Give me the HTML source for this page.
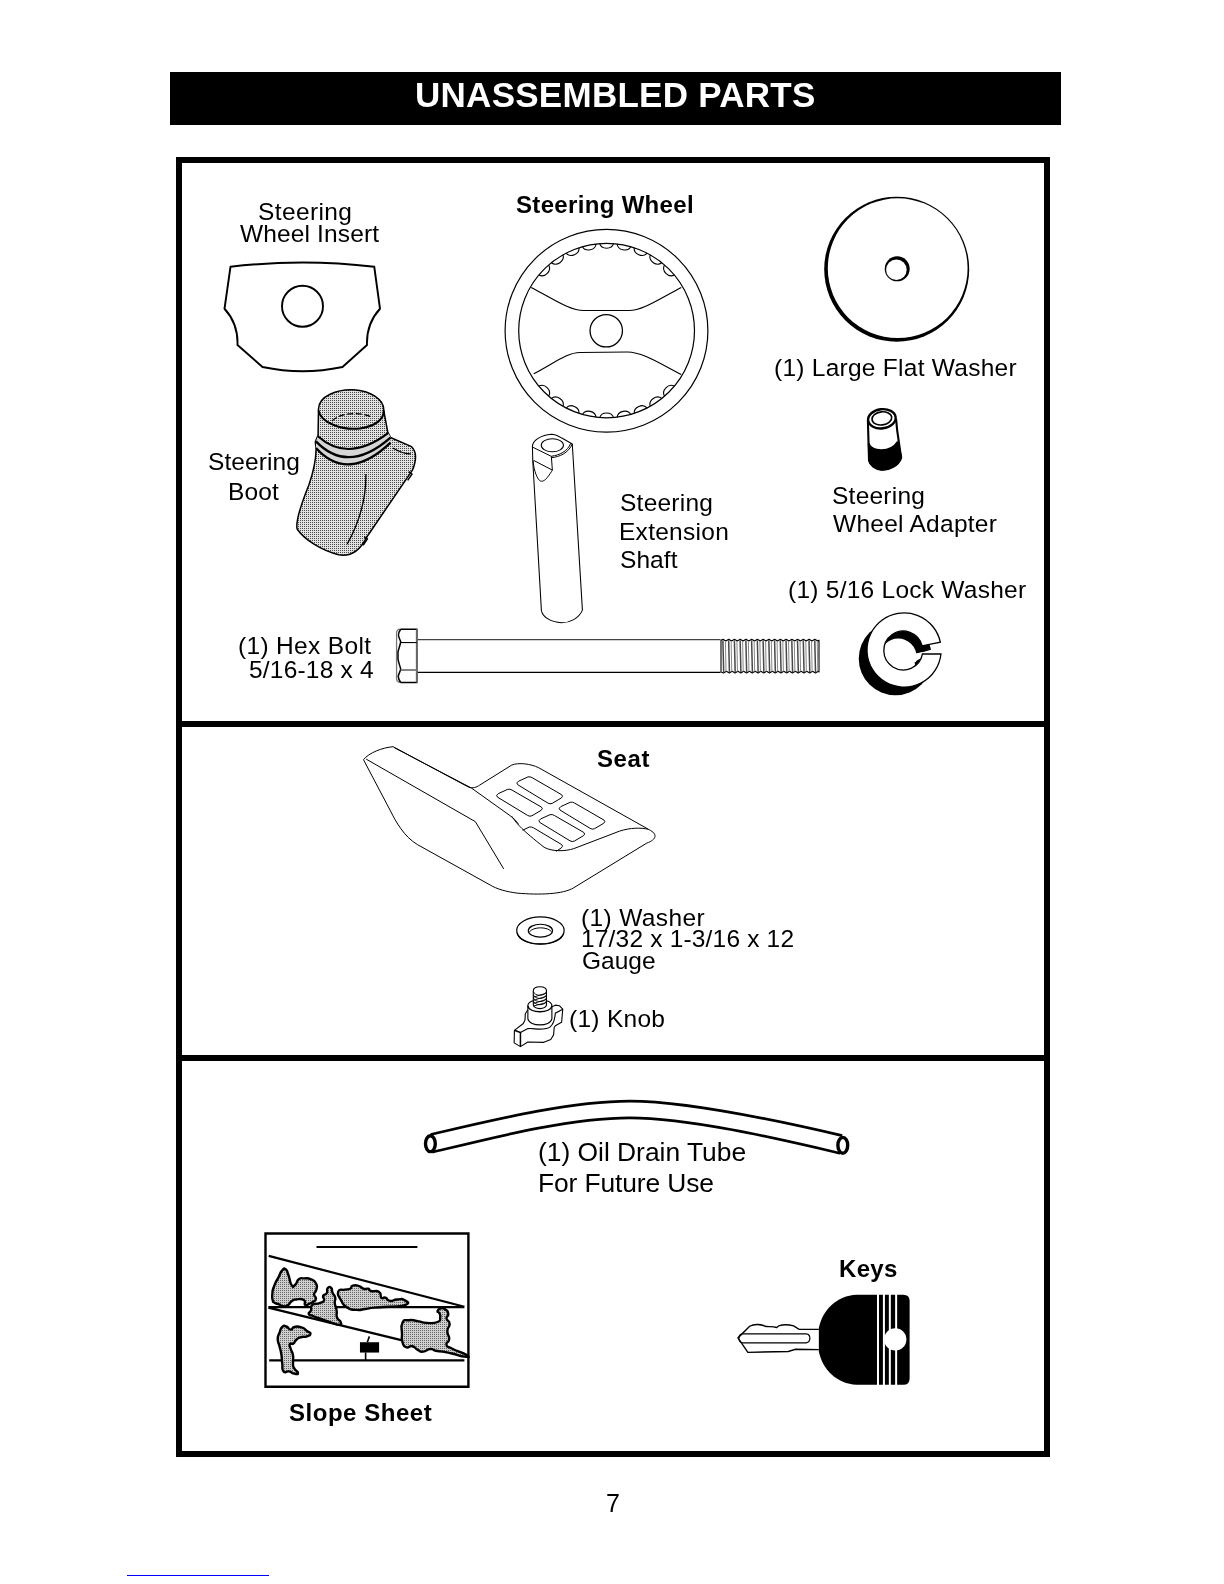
<!DOCTYPE html>
<html><head><meta charset="utf-8">
<style>
html,body{margin:0;padding:0;background:#fff;}
body{width:1224px;height:1584px;position:relative;overflow:hidden;font-family:"Liberation Sans",sans-serif;color:#000;}
.hdr{position:absolute;left:170px;top:72px;width:891px;height:53px;background:#000;}
.box{position:absolute;left:176px;top:157px;width:862px;height:1288px;border:6px solid #000;}
.sep{position:absolute;left:176px;width:874px;height:6px;background:#000;}
.t{position:absolute;white-space:nowrap;line-height:1;will-change:transform;}
.b{font-weight:bold;}
svg{position:absolute;left:0;top:0;}
svg *{vector-effect:non-scaling-stroke;}
</style></head><body>
<div class="hdr"></div>
<div class="box"></div>
<div class="sep" style="top:721px"></div>
<div class="sep" style="top:1055px"></div>
<div class="t b" style="left:414.5px;top:77.4px;font-size:35px;letter-spacing:0.27px;color:#fff;">UNASSEMBLED PARTS</div>
<svg width="1224" height="1584" viewBox="0 0 1224 1584" fill="none" stroke="#000" stroke-width="1.5">
<defs>
<pattern id="dA" width="2" height="2" patternUnits="userSpaceOnUse" patternTransform="scale(4.708)"><rect width="2" height="2" fill="#e2e2e2" stroke="none"/><rect width="1" height="1" fill="#484848" stroke="none"/></pattern>
<pattern id="dB" width="2" height="2" patternUnits="userSpaceOnUse" patternTransform="scale(11.127)"><rect width="2" height="2" fill="#cfcfcf" stroke="none"/><rect width="1" height="1" fill="#666" stroke="none"/></pattern>
</defs>
<g transform="translate(200,180) scale(0.25000)" >
<path d="M122,347 Q410,313 697,347 L720,515 Q665,575 668,660 L570,748 Q410,782 250,748 L150,660 Q153,575 98,515 Z" stroke-width="1.9" stroke-linejoin="round"/>
<circle cx="410" cy="505" r="82" stroke-width="1.9"/>
</g>
<circle cx="606.5" cy="330.75" r="101.4" stroke-width="1.2"/>
<ellipse cx="606.6" cy="330.6" rx="87.9" ry="87.2" stroke-width="1.2"/>
<path d="M539.0,275.1 C544.9,278.1 552.0,270.8 548.7,265.0" stroke-width="1.1"/>
<path d="M551.4,262.7 C556.6,266.9 565.0,261.1 563.0,254.7" stroke-width="1.1"/>
<path d="M566.1,253.1 C570.3,258.2 579.7,254.2 579.0,247.6" stroke-width="1.1"/>
<path d="M582.3,246.5 C585.5,252.4 595.5,250.4 596.1,243.7" stroke-width="1.1"/>
<path d="M599.6,243.4 C601.5,249.8 611.7,249.8 613.6,243.4" stroke-width="1.1"/>
<path d="M617.1,243.7 C617.7,250.4 627.7,252.4 630.9,246.5" stroke-width="1.1"/>
<path d="M634.2,247.6 C633.5,254.2 642.9,258.2 647.1,253.1" stroke-width="1.1"/>
<path d="M650.2,254.7 C648.2,261.1 656.6,266.9 661.8,262.7" stroke-width="1.1"/>
<path d="M664.5,265.0 C661.2,270.8 668.3,278.1 674.2,275.1" stroke-width="1.1"/>
<path d="M674.2,386.1 C668.3,383.1 661.2,390.4 664.5,396.2" stroke-width="1.1"/>
<path d="M661.8,398.5 C656.6,394.3 648.2,400.1 650.2,406.5" stroke-width="1.1"/>
<path d="M647.1,408.1 C642.9,403.0 633.5,407.0 634.2,413.6" stroke-width="1.1"/>
<path d="M630.9,414.7 C627.7,408.8 617.7,410.8 617.1,417.5" stroke-width="1.1"/>
<path d="M613.6,417.8 C611.7,411.4 601.5,411.4 599.6,417.8" stroke-width="1.1"/>
<path d="M596.1,417.5 C595.5,410.8 585.5,408.8 582.3,414.7" stroke-width="1.1"/>
<path d="M579.0,413.6 C579.7,407.0 570.3,403.0 566.1,408.1" stroke-width="1.1"/>
<path d="M563.0,406.5 C565.0,400.1 556.6,394.3 551.4,398.5" stroke-width="1.1"/>
<path d="M548.7,396.2 C552.0,390.4 544.9,383.1 539.0,386.1" stroke-width="1.1"/>
<circle cx="606.25" cy="330.75" r="16.2" stroke-width="1.3"/>
<g transform="translate(480,180) scale(0.25000)" >
<path d="M205,430 C300,480 360,522 415,522 L595,522 C650,522 710,480 805,430" stroke-width="1.2"/>
<path d="M215,775 C300,730 350,690 400,690 L590,688 C650,688 720,735 805,778" stroke-width="1.2"/>
</g>

<circle cx="896.7" cy="269.2" r="72.5" fill="#000" stroke="none"/>
<circle cx="897.7" cy="268.2" r="69.9" fill="#fff" stroke="none"/>
<circle cx="897.2" cy="268.8" r="12.5" fill="#000" stroke="none"/>
<circle cx="896.4" cy="269.7" r="10.3" fill="#fff" stroke="none"/>
<g transform="translate(190,370) scale(0.21240)" >
<path d="M605,190 C600,120 700,90 770,93 C850,97 915,140 912,190 L931,292 L944,318 L1043,361 C1068,385 1068,420 1048,470 L830,790 C800,850 760,880 700,870 C620,850 540,800 505,750 C495,720 520,640 560,540 C585,470 592,430 594,372 L590,338 L603,308 Z" fill="url(#dA)" stroke-width="1.5" stroke-linejoin="round"/>
<path d="M602,312 Q744,439 934,296 L944,318 L944,342 Q744,533 593,367 L593,336 Z" fill="#d6d6d6" stroke="none"/>
<path d="M605,190 C615,250 720,285 800,275 C880,265 915,225 912,190" stroke-width="2"/>
<path d="M668,240 C710,200 800,195 855,222" stroke-width="1.3" stroke-dasharray="6 2.5"/>
<path d="M602,312 Q744,439 934,296" stroke-width="2.1"/>
<path d="M593,336 Q744,493 944,318" stroke-width="2.3"/>
<path d="M593,367 Q744,533 944,342" stroke-width="2.3"/>
<path d="M828,490 C830,620 790,730 740,820" stroke-width="1.3"/>
<path d="M955,367 C985,385 1010,395 1040,395" stroke-width="1.3"/>
<path d="M1030,478 L1045,490 L1025,520" stroke-width="1.5"/>
<path d="M820,785 L835,795 L815,825" stroke-width="1.5"/>
</g>
<g transform="translate(520,425) scale(0.06536)" >
<path d="M190,320 C200,230 330,150 480,140 C540,140 580,160 640,200 L800,290 L955,2832 C900,2960 760,3027 636,3027 C480,3010 360,2950 328,2848 L195,540 Z" fill="#fff" stroke-width="1.05" stroke-linejoin="round"/>
<path d="M195,340 L480,480 M480,500 C600,490 740,430 800,290 M480,478 C600,465 730,400 775,282" stroke-width="1"/>
<ellipse cx="495" cy="310" rx="170" ry="100" stroke-width="1.05"/>
<path d="M480,480 L495,690 M215,545 L495,690 M200,540 C205,640 240,790 300,850 C340,880 390,840 420,800 C450,760 480,720 495,690" stroke-width="1"/>
</g>
<g transform="translate(855,400) scale(0.05051)" >
<path d="M255,400 L278,1200 C300,1290 400,1370 520,1380 C680,1390 860,1300 915,1140 L895,1020 L835,600 L815,390 Z" fill="#fff" stroke-width="2.1" stroke-linejoin="round"/>
<path d="M268,850 C300,930 400,985 520,988 C640,988 770,940 838,830 L895,1020 L915,1140 C860,1300 680,1390 520,1380 C400,1370 300,1290 278,1200 Z" fill="#000" stroke-width="1.5" stroke-linejoin="round"/>
<ellipse cx="532" cy="372" rx="274" ry="190" fill="#fff" stroke-width="2.4" transform="rotate(-7 532 372)"/>
<ellipse cx="532" cy="364" rx="196" ry="130" stroke-width="1.6" transform="rotate(-7 532 364)"/>
</g>

<path d="M417.4,639.7 L720.5,639.7" stroke="#444" stroke-width="1.2"/><path d="M417.4,672.4 L720.5,672.4" stroke-width="1.4"/>
<path d="M721.00,640.2 L723.00,639.2 L725.80,641.0 L728.74,639.2 L731.54,641.0 L734.48,639.2 L737.28,641.0 L740.22,639.2 L743.02,641.0 L745.96,639.2 L748.76,641.0 L751.70,639.2 L754.50,641.0 L757.44,639.2 L760.24,641.0 L763.18,639.2 L765.98,641.0 L768.92,639.2 L771.72,641.0 L774.66,639.2 L777.46,641.0 L780.40,639.2 L783.20,641.0 L786.14,639.2 L788.94,641.0 L791.88,639.2 L794.68,641.0 L797.62,639.2 L800.42,641.0 L803.36,639.2 L806.16,641.0 L809.10,639.2 L811.90,641.0 L814.84,639.2 L817.64,641.0 L819.00,640.2 L819.00,672.0 L818.24,671.2 L815.44,673.0 L812.50,671.2 L809.70,673.0 L806.76,671.2 L803.96,673.0 L801.02,671.2 L798.22,673.0 L795.28,671.2 L792.48,673.0 L789.54,671.2 L786.74,673.0 L783.80,671.2 L781.00,673.0 L778.06,671.2 L775.26,673.0 L772.32,671.2 L769.52,673.0 L766.58,671.2 L763.78,673.0 L760.84,671.2 L758.04,673.0 L755.10,671.2 L752.30,673.0 L749.36,671.2 L746.56,673.0 L743.62,671.2 L740.82,673.0 L737.88,671.2 L735.08,673.0 L732.14,671.2 L729.34,673.0 L726.40,671.2 L723.60,673.0 L721.00,672.0 Z" fill="#fff" stroke-width="1.1" stroke-linejoin="round"/>
<path d="M722.90,640.3 L723.70,672.2" stroke="#484848" stroke-width="1.5"/>
<path d="M725.40,641.2 L726.00,671.4" stroke="#8a8a8a" stroke-width="1.0"/>
<path d="M728.64,640.3 L729.44,672.2" stroke="#484848" stroke-width="1.5"/>
<path d="M731.14,641.2 L731.74,671.4" stroke="#8a8a8a" stroke-width="1.0"/>
<path d="M734.38,640.3 L735.18,672.2" stroke="#484848" stroke-width="1.5"/>
<path d="M736.88,641.2 L737.48,671.4" stroke="#8a8a8a" stroke-width="1.0"/>
<path d="M740.12,640.3 L740.92,672.2" stroke="#484848" stroke-width="1.5"/>
<path d="M742.62,641.2 L743.22,671.4" stroke="#8a8a8a" stroke-width="1.0"/>
<path d="M745.86,640.3 L746.66,672.2" stroke="#484848" stroke-width="1.5"/>
<path d="M748.36,641.2 L748.96,671.4" stroke="#8a8a8a" stroke-width="1.0"/>
<path d="M751.60,640.3 L752.40,672.2" stroke="#484848" stroke-width="1.5"/>
<path d="M754.10,641.2 L754.70,671.4" stroke="#8a8a8a" stroke-width="1.0"/>
<path d="M757.34,640.3 L758.14,672.2" stroke="#484848" stroke-width="1.5"/>
<path d="M759.84,641.2 L760.44,671.4" stroke="#8a8a8a" stroke-width="1.0"/>
<path d="M763.08,640.3 L763.88,672.2" stroke="#484848" stroke-width="1.5"/>
<path d="M765.58,641.2 L766.18,671.4" stroke="#8a8a8a" stroke-width="1.0"/>
<path d="M768.82,640.3 L769.62,672.2" stroke="#484848" stroke-width="1.5"/>
<path d="M771.32,641.2 L771.92,671.4" stroke="#8a8a8a" stroke-width="1.0"/>
<path d="M774.56,640.3 L775.36,672.2" stroke="#484848" stroke-width="1.5"/>
<path d="M777.06,641.2 L777.66,671.4" stroke="#8a8a8a" stroke-width="1.0"/>
<path d="M780.30,640.3 L781.10,672.2" stroke="#484848" stroke-width="1.5"/>
<path d="M782.80,641.2 L783.40,671.4" stroke="#8a8a8a" stroke-width="1.0"/>
<path d="M786.04,640.3 L786.84,672.2" stroke="#484848" stroke-width="1.5"/>
<path d="M788.54,641.2 L789.14,671.4" stroke="#8a8a8a" stroke-width="1.0"/>
<path d="M791.78,640.3 L792.58,672.2" stroke="#484848" stroke-width="1.5"/>
<path d="M794.28,641.2 L794.88,671.4" stroke="#8a8a8a" stroke-width="1.0"/>
<path d="M797.52,640.3 L798.32,672.2" stroke="#484848" stroke-width="1.5"/>
<path d="M800.02,641.2 L800.62,671.4" stroke="#8a8a8a" stroke-width="1.0"/>
<path d="M803.26,640.3 L804.06,672.2" stroke="#484848" stroke-width="1.5"/>
<path d="M805.76,641.2 L806.36,671.4" stroke="#8a8a8a" stroke-width="1.0"/>
<path d="M809.00,640.3 L809.80,672.2" stroke="#484848" stroke-width="1.5"/>
<path d="M811.50,641.2 L812.10,671.4" stroke="#8a8a8a" stroke-width="1.0"/>
<path d="M814.74,640.3 L815.54,672.2" stroke="#484848" stroke-width="1.5"/>
<path d="M817.24,641.2 L817.84,671.4" stroke="#8a8a8a" stroke-width="1.0"/>
<g transform="translate(385,620) scale(0.04902)" >
<path d="M320,187 L648,187 L648,1275 L320,1275" stroke-width="1.5"/>
<path d="M648,187 L648,1275" stroke="#666" stroke-width="1.8"/>
<path d="M320,187 C270,190 236,220 236,260 L236,1200 C236,1240 270,1272 320,1275" stroke="#777" stroke-width="1.3"/>
<path d="M320,190 C290,230 270,270 275,320 C290,380 310,410 320,440 C310,520 275,600 265,650 L265,800 C280,880 310,950 320,1000 C310,1060 275,1100 270,1150 C275,1210 300,1250 320,1275" stroke-width="1.5"/>
<path d="M320,460 L648,460" stroke-width="1.1"/>
<path d="M320,1020 L648,1020" stroke="#777" stroke-width="1.8"/>
</g>
<clipPath id="lwh"><circle cx="652" cy="557" r="238"/></clipPath>
<g transform="translate(850,605) scale(0.08170)" >
<circle cx="557" cy="656" r="450" fill="#000" stroke="none"/>
<path d="M800,602 L1003,546 L1020,602 Z" fill="#fff" stroke="none"/>
<g clip-path="url(#lwh)"><circle cx="590" cy="637" r="226" fill="#fff" stroke="none"/><path d="M780,600 L890,575 L890,640 L780,700 Z" fill="#fff" stroke="none"/></g>
<path d="M1105.7,455 A454,454 0 1,0 1113.3,600 L886,600 A238,238 0 1,1 883,500 Z" fill="#fff" stroke-width="1.3" stroke-linejoin="miter"/>
<path d="M790,702 L850,690 L800,740 Z" fill="#000" stroke="none"/>
</g>
<g transform="translate(350,730) scale(0.26961)" >
<path d="M50,110 C70,85 120,65 160,62 L440,212 C455,218 470,212 480,205 L600,130 C625,120 670,125 700,140 L1110,370 C1140,385 1140,405 1100,420 L830,585 C790,610 700,612 620,605 C580,600 545,590 520,575 L250,425 C200,395 170,340 150,300 Z" stroke-width="1"/>
<path d="M60,108 L465,340 L570,515" stroke-width="1"/>
<path d="M165,66 L450,215 L590,315 C610,330 620,340 625,350" stroke-width="1"/>
<path d="M600,320 C620,350 640,372 720,435 C750,452 800,450 830,440 L1000,375 C1040,362 1080,362 1105,368" stroke-width="1"/>
<path d="M625,190 L660,174 Q668,172 676,177 L785,240 Q792,246 784,252 L750,272 Q742,276 734,271 L622,203 Q614,196 625,190 Z" stroke-width="1"/>
<path d="M550,236 L585,220 Q593,218 601,223 L710,286 Q717,292 709,298 L675,318 Q667,322 659,317 L547,249 Q539,242 550,236 Z" stroke-width="1"/>
<path d="M782,284 L817,268 Q825,266 833,271 L942,334 Q949,340 941,346 L907,366 Q899,370 891,365 L779,297 Q771,290 782,284 Z" stroke-width="1"/>
<path d="M707,330 L742,314 Q750,312 758,317 L867,380 Q874,386 866,392 L832,412 Q824,416 816,411 L704,343 Q696,336 707,330 Z" stroke-width="1"/>
<path d="M640,372 L665,360 Q673,358 681,363 L785,425 Q792,431 784,437 L765,450" stroke-width="1"/>
</g>
<g transform="translate(490,890) scale(0.26961)" >
<ellipse cx="187" cy="150" rx="88" ry="50" stroke-width="1.2"/>
<path d="M100,158 C110,215 265,215 274,158" stroke-width="1.1"/>
<ellipse cx="187" cy="151" rx="45" ry="24" stroke-width="1.2"/>
<path d="M146,156 C160,135 215,135 229,156" stroke-width="1"/>
</g>
<g transform="translate(505,980) scale(0.05718)" >
<path d="M400,520 L355,590 L350,700 L320,760 L165,880 L160,1100 L270,1165 L400,1085 L680,1090 L800,1040 L850,960 L860,830 L880,800 L990,740 L1010,510 L950,450 L880,440 L820,470" fill="#fff" stroke-width="1.1" stroke-linejoin="round"/>
<path d="M165,880 L270,920 L270,1165" stroke-width="1.5"/>
<path d="M270,920 L400,850 C470,840 540,860 600,860 C680,860 760,850 790,820 C840,780 870,700 880,580 L1010,510" stroke-width="1.1"/>
<path d="M400,450 C400,310 820,310 820,450 L820,680 C790,820 430,820 400,680 Z" fill="#fff" stroke-width="1.1"/>
<path d="M400,450 C410,590 810,590 820,450" stroke-width="1.3"/>
<path d="M495,190 C495,95 725,95 725,190 L725,440 C700,520 520,520 495,440 Z" fill="#fff" stroke-width="1.1"/>
<path d="M495,200 C520,290 700,290 725,200 M495,255 C520,345 700,345 725,255 M495,310 C520,400 700,400 725,310 M495,365 C520,455 700,455 725,365 M500,300 L720,230 M500,355 L720,285 M500,410 L720,340 M500,455 L720,395" stroke-width="0.9"/>
</g>

<path d="M430.7,1134.5 C490.7,1120.5 569.8,1101.1 629.8,1101.1 C689.8,1101.1 782.2,1121.6 842.2,1135.6" stroke-width="2.7"/>
<path d="M432.5,1152.2 C492.5,1137.7 569.8,1117.8 629.8,1117.8 C689.8,1117.8 780.3,1139.3 840.3,1153.3" stroke-width="2.7"/>
<ellipse cx="430.4" cy="1143.7" rx="4.9" ry="7.9" stroke-width="3.4" fill="#fff"/>
<ellipse cx="842.8" cy="1145.3" rx="4.9" ry="7.9" stroke-width="3.4" fill="#fff"/>
<rect x="265.5" y="1233.5" width="202.9" height="153.2" stroke-width="2.4"/>
<path d="M316.5,1247 L417.4,1247" stroke-width="2"/>
<g transform="translate(262,1260) scale(0.08987)" >
<path d="M74.5,-45.6 L2252.7,520 M70,525 L2252,525 M70,530 L2277.7,1070 M80,1116 L2252,1116" stroke-width="2.2"/>
<g fill="url(#dB)" stroke-width="2.4" stroke-linejoin="round">
<path d="M120,450 C112,418 110,433 115,380 C120,327 112,353 135,290 C158,227 155,248 185,190 C215,132 198,143 225,115 C252,87 242,87 265,105 C288,123 273,112 295,170 C317,228 305,245 330,280 C355,315 343,297 370,275 C397,253 377,238 410,215 C443,192 425,205 470,205 C515,205 502,197 545,215 C588,233 580,222 600,260 C620,298 612,290 605,330 C598,370 582,347 580,380 C578,413 603,402 600,430 C597,458 597,445 570,465 C543,485 550,478 520,490 C490,502 498,515 480,500 C462,485 498,465 465,445 C432,425 425,435 380,440 C335,445 360,440 330,460 C300,480 320,482 290,500 C260,518 273,517 240,515 C207,513 223,508 190,495 C157,482 163,490 140,475 C117,460 128,482 120,450 Z"/>
<path d="M520,600 C515,580 532,593 545,560 C558,527 528,527 560,500 C592,473 597,497 640,480 C683,463 677,477 690,450 C703,423 670,427 680,400 C690,373 703,398 720,370 C737,342 713,335 730,315 C747,295 752,293 770,310 C788,327 770,328 785,365 C800,402 807,382 815,420 C823,458 805,433 810,480 C815,527 822,507 830,560 C838,613 820,597 835,640 C850,683 867,663 875,690 C883,717 892,717 860,720 C828,723 853,723 780,700 C707,677 713,677 640,650 C567,623 600,637 560,620 C520,603 525,620 520,600 Z"/>
<path d="M850,350 C863,310 877,340 920,330 C963,320 950,335 980,320 C1010,305 977,295 1010,285 C1043,275 1040,278 1080,290 C1120,302 1096,310 1130,320 C1164,330 1155,312 1183,320 C1211,328 1173,333 1213,345 C1253,357 1265,330 1303,355 C1341,380 1305,398 1328,420 C1351,442 1341,408 1373,420 C1405,432 1380,448 1423,455 C1466,462 1450,443 1503,440 C1556,437 1551,425 1583,445 C1615,465 1655,475 1598,500 C1541,525 1529,510 1413,520 C1297,530 1338,522 1250,530 C1162,538 1217,537 1150,545 C1083,553 1117,560 1050,555 C983,550 1007,565 950,530 C893,495 913,510 880,450 C847,390 837,390 850,350 Z"/>
<path d="M1562.7,700 C1588,650 1576,677 1632.7,670 C1689,663 1666,670 1732.7,680 C1799,690 1759,697 1832.7,700 C1906,703 1903,710 1952.7,690 C2003,670 1976,673 1982.7,640 C1989,607 1983,613 1972.7,590 C1963,567 1949,587 1952.7,570 C1956,553 1956,548 1982.7,540 C2009,532 2003,525 2032.7,545 C2063,565 2066,565 2072.7,600 C2079,635 2048,613 2052.7,650 C2058,687 2084,663 2087.7,710 C2091,757 2064,733 2062.7,790 C2061,847 2086,830 2082.7,880 C2079,930 2043,905 2052.7,940 C2063,975 2039,947 2112.7,985 C2186,1023 2226,1025 2272.7,1055 C2319,1085 2306,1080 2252.7,1075 C2199,1070 2193,1058 2112.7,1040 C2033,1022 2073,1030 2012.7,1020 C1953,1010 1979,1020 1932.7,1010 C1886,1000 1919,987 1872.7,990 C1826,993 1839,1017 1792.7,1020 C1746,1023 1773,1020 1732.7,1000 C1693,980 1716,970 1672.7,960 C1629,950 1639,987 1602.7,970 C1566,953 1578,960 1562.7,910 C1548,860 1558,890 1557.7,820 C1558,750 1538,750 1562.7,700 Z"/>
<path d="M175,880 C175,830 178,855 195,810 C212,765 200,768 225,745 C250,722 238,730 270,740 C302,750 290,773 320,775 C350,777 320,753 360,745 C400,737 393,735 440,750 C487,765 467,767 500,790 C533,813 540,800 540,820 C540,840 537,837 500,850 C463,863 470,847 430,860 C390,873 407,867 380,890 C353,913 373,915 350,930 C327,945 320,915 310,935 C300,955 308,948 320,990 C332,1032 337,1010 345,1060 C353,1110 342,1093 345,1140 C348,1187 337,1162 355,1200 C373,1238 398,1233 400,1255 C402,1277 393,1270 360,1265 C327,1260 340,1248 300,1240 C260,1232 265,1270 240,1240 C215,1210 233,1213 225,1150 C217,1087 225,1113 215,1050 C205,987 208,1017 195,960 C182,903 175,930 175,880 Z"/>
</g>
<path d="M1195,850 L1172,915 M1153,1030 L1153,1116" stroke-width="1.6"/>
<rect x="1090" y="915" width="213" height="115" fill="#000" stroke="none"/>
</g>
<g transform="translate(720,1240) scale(0.17973)" >
<path d="M550,497 L440,497 L410,478 C380,470 345,472 330,476 L315,487 C290,478 270,485 250,480 C230,468 190,465 165,480 L100,545 L155,625 L380,620 L420,608 L550,610" stroke-width="1.4" fill="#fff"/>
<path d="M125,522 L480,522 Q500,524 500,547 Q500,570 480,572 L125,572 Q105,570 105,547 Q105,524 125,522 Z" stroke-width="1.2"/>
<path d="M550,490 C570,390 650,310 760,305 L1020,305 Q1055,305 1055,340 L1055,770 Q1055,805 1020,805 L760,805 C650,800 570,720 550,620 Z" fill="#000" stroke="none"/>
<path d="M879,300 L879,810 M912,300 L912,810 M945,300 L945,810 M980,300 L980,810" stroke="#fff" stroke-width="2"/>
<circle cx="975" cy="553" r="62" fill="#fff" stroke="none"/>
</g>
</svg>
<div class="t" style="left:258.2px;top:200.46px;font-size:24.5px;letter-spacing:0.371px">Steering</div>
<div class="t" style="left:239.5px;top:222.46px;font-size:24.5px;letter-spacing:0.136px">Wheel Insert</div>
<div class="t b" style="left:515.75px;top:192.88px;font-size:24px;letter-spacing:0.327px">Steering Wheel</div>
<div class="t" style="left:773.6px;top:355.56px;font-size:24.5px;letter-spacing:0.26px">(1) Large Flat Washer</div>
<div class="t" style="left:208.1px;top:450.21px;font-size:24.5px;letter-spacing:0.093px">Steering</div>
<div class="t" style="left:228.4px;top:479.56px;font-size:24.5px;letter-spacing:0.133px">Boot</div>
<div class="t" style="left:620.1px;top:490.86px;font-size:24.5px;letter-spacing:0.243px">Steering</div>
<div class="t" style="left:619.1px;top:519.96px;font-size:24.5px;letter-spacing:0.275px">Extension</div>
<div class="t" style="left:620.1px;top:547.96px;font-size:24.5px;letter-spacing:0.075px">Shaft</div>
<div class="t" style="left:832.1px;top:483.56px;font-size:24.5px;letter-spacing:0.243px">Steering</div>
<div class="t" style="left:833.0px;top:511.86px;font-size:24.5px;letter-spacing:0.267px">Wheel Adapter</div>
<div class="t" style="left:788.2px;top:578.16px;font-size:24.5px;letter-spacing:0.253px">(1) 5/16 Lock Washer</div>
<div class="t" style="left:238.4px;top:633.56px;font-size:24.5px;letter-spacing:0.336px">(1) Hex Bolt</div>
<div class="t" style="left:249.0px;top:657.96px;font-size:24.5px;letter-spacing:0.2px">5/16-18 x 4</div>
<div class="t b" style="left:597.0px;top:746.78px;font-size:24px;letter-spacing:0.6px">Seat</div>
<div class="t" style="left:581.0px;top:905.56px;font-size:24.5px;letter-spacing:0.367px">(1) Washer</div>
<div class="t" style="left:581.0px;top:927.36px;font-size:24.5px;letter-spacing:0.183px">17/32 x 1-3/16 x 12</div>
<div class="t" style="left:582.0px;top:949.46px;font-size:24.5px;letter-spacing:0.0px">Gauge</div>
<div class="t" style="left:568.9px;top:1007.46px;font-size:24.5px;letter-spacing:0.286px">(1) Knob</div>
<div class="t" style="left:537.7px;top:1139.15px;font-size:26.4px;letter-spacing:-0.012px">(1) Oil Drain Tube</div>
<div class="t" style="left:538.0px;top:1170.35px;font-size:26.4px;letter-spacing:-0.115px">For Future Use</div>
<div class="t b" style="left:838.8px;top:1257.18px;font-size:24px;letter-spacing:0.333px">Keys</div>
<div class="t b" style="left:288.9px;top:1401.08px;font-size:24px;letter-spacing:0.53px">Slope Sheet</div>
<div class="t" style="left:605.7px;top:1491.34px;font-size:25px;letter-spacing:0px">7</div>
<div style="position:absolute;left:127px;top:1575px;width:142px;height:1px;background:#00f;"></div>
</body></html>
